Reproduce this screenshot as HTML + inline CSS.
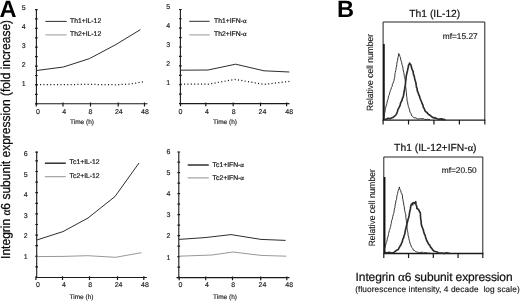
<!DOCTYPE html>
<html><head><meta charset="utf-8"><title>Figure</title>
<style>
html,body{margin:0;padding:0;background:#fff;}
body{width:520px;height:301px;overflow:hidden;}
svg{display:block;filter:blur(0.35px);text-rendering:geometricPrecision;font-family:"Liberation Sans",Arial,Helvetica,sans-serif;}
.ax{stroke:#1a1a1a;stroke-width:1.1;fill:none;}
.tk{stroke:#1a1a1a;stroke-width:1.2;fill:none;}
.tl{font-size:7px;fill:#1a1a1a;stroke:#1a1a1a;stroke-width:0.15;}
.lg{font-size:6.8px;fill:#1a1a1a;stroke:#1a1a1a;stroke-width:0.22;}
.sol{stroke:#222;stroke-width:0.95;fill:none;stroke-linejoin:round;}
.dot{stroke:#1a1a1a;stroke-width:1.25;fill:none;stroke-dasharray:1.1 2.3;}
.gry{stroke:#8c8c8c;stroke-width:0.9;fill:none;}
.lgry2{stroke:#999;stroke-width:1.1;fill:none;}
.lgry{stroke:#aaa;stroke-width:1.2;fill:none;}
.big{font-size:23.6px;font-weight:bold;fill:#000;}
.ylab{font-size:13px;fill:#0a0a0a;stroke:#0a0a0a;stroke-width:0.25;}
.ttl{font-size:10.3px;fill:#111;stroke:#111;stroke-width:0.2;}
.mf{font-size:8.3px;fill:#1a1a1a;stroke:#1a1a1a;stroke-width:0.15;}
.rel{font-size:9px;fill:#1a1a1a;stroke:#1a1a1a;stroke-width:0.12;}
.sym{font-family:"Liberation Serif","DejaVu Serif",serif;}
</style></head><body>
<svg width="520" height="301" viewBox="0 0 520 301">
<rect width="520" height="301" fill="#fff"/>
<g>
<path class="ax" d="M36.4 9.4 V103.8 M36.4 103.8 H147.5"/>
<path class="tk" d="M35 103.8H37.7M35 94.37H37.7M35 84.94H37.7M35 75.51H37.7M35 66.08H37.7M35 56.65H37.7M35 47.22H37.7M35 37.79H37.7M35 28.36H37.7M35 18.93H37.7M35 9.7H37.7M36.3 102.6V106.4M63 102.6V106.4M90.5 102.6V106.4M118.2 102.6V106.4M144.5 102.6V106.4"/>
<text class="tl" x="23.6" y="86.1" text-anchor="middle">1</text>
<text class="tl" x="23.6" y="67.03" text-anchor="middle">2</text>
<text class="tl" x="23.6" y="47.96" text-anchor="middle">3</text>
<text class="tl" x="23.6" y="28.89" text-anchor="middle">4</text>
<text class="tl" x="23.6" y="9.82" text-anchor="middle">5</text>
<text class="tl" x="38" y="114.2" text-anchor="middle">0</text>
<text class="tl" x="64.3" y="114.2" text-anchor="middle">4</text>
<text class="tl" x="90.5" y="114.2" text-anchor="middle">8</text>
<text class="tl" x="118.8" y="114.2" text-anchor="middle">24</text>
<text class="tl" x="145" y="114.2" text-anchor="middle">48</text>
<text class="tl" style="font-size:6.5px" x="70" y="123.7">Time (h)</text>
</g>
<g>
<path class="ax" d="M180.4 9.2 V103.6 M180.4 103.6 H289.5"/>
<path class="tk" d="M179 103.6H181.7M179 94.17H181.7M179 84.74H181.7M179 75.31H181.7M179 65.88H181.7M179 56.45H181.7M179 47.02H181.7M179 37.59H181.7M179 28.16H181.7M179 18.73H181.7M179 9.5H181.7M180.5 102.4V106.2M205.8 102.4V106.2M233.2 102.4V106.2M260.5 102.4V106.2M286.6 102.4V106.2"/>
<text class="tl" x="168.3" y="84.9" text-anchor="middle">1</text>
<text class="tl" x="168.3" y="65.9" text-anchor="middle">2</text>
<text class="tl" x="168.3" y="46.9" text-anchor="middle">3</text>
<text class="tl" x="168.3" y="27.9" text-anchor="middle">4</text>
<text class="tl" x="168.3" y="8.9" text-anchor="middle">5</text>
<text class="tl" x="180.5" y="114.2" text-anchor="middle">0</text>
<text class="tl" x="207" y="114.2" text-anchor="middle">4</text>
<text class="tl" x="233.7" y="114.2" text-anchor="middle">8</text>
<text class="tl" x="262.5" y="114.2" text-anchor="middle">24</text>
<text class="tl" x="289.2" y="114.2" text-anchor="middle">48</text>
<text class="tl" style="font-size:6.5px" x="213" y="124.1">Time (h)</text>
</g>
<g>
<path class="ax" d="M36.7 151.8 V277.5 M36.7 277.5 H146.8"/>
<path class="tk" d="M35.3 277.5H38M35.3 266.9H38M35.3 256.3H38M35.3 245.7H38M35.3 235.1H38M35.3 224.5H38M35.3 213.9H38M35.3 203.3H38M35.3 192.7H38M35.3 182.1H38M35.3 171.5H38M35.3 160.9H38M35.3 152.1H38M35.9 276.3V280.1M62.5 276.3V280.1M89.5 276.3V280.1M117.5 276.3V280.1M143.8 276.3V280.1"/>
<text class="tl" x="25.8" y="258.9" text-anchor="middle">1</text>
<text class="tl" x="25.8" y="238.3" text-anchor="middle">2</text>
<text class="tl" x="25.8" y="217.7" text-anchor="middle">3</text>
<text class="tl" x="25.8" y="197.1" text-anchor="middle">4</text>
<text class="tl" x="25.8" y="176.5" text-anchor="middle">5</text>
<text class="tl" x="25.8" y="155.9" text-anchor="middle">6</text>
<text class="tl" x="38" y="287.2" text-anchor="middle">0</text>
<text class="tl" x="64" y="287.2" text-anchor="middle">4</text>
<text class="tl" x="90.3" y="287.2" text-anchor="middle">8</text>
<text class="tl" x="118.6" y="287.2" text-anchor="middle">24</text>
<text class="tl" x="145" y="287.2" text-anchor="middle">48</text>
<text class="tl" style="font-size:6.5px" x="69.5" y="299">Time (h)</text>
</g>
<g>
<path class="ax" d="M178.8 151.7 V277.6 M176.5 277.6 H289.5"/>
<path class="tk" d="M177.4 277.6H180.1M177.4 267.11H180.1M177.4 256.62H180.1M177.4 246.13H180.1M177.4 235.64H180.1M177.4 225.15H180.1M177.4 214.66H180.1M177.4 204.17H180.1M177.4 193.68H180.1M177.4 183.19H180.1M177.4 172.7H180.1M177.4 162.21H180.1M177.4 152H180.1M179.2 276.4V280.2M205.7 276.4V280.2M232.5 276.4V280.2M260.7 276.4V280.2M286.8 276.4V280.2"/>
<text class="tl" x="168.5" y="259.5" text-anchor="middle">1</text>
<text class="tl" x="168.5" y="238.3" text-anchor="middle">2</text>
<text class="tl" x="168.5" y="217.1" text-anchor="middle">3</text>
<text class="tl" x="168.5" y="195.9" text-anchor="middle">4</text>
<text class="tl" x="168.5" y="174.7" text-anchor="middle">5</text>
<text class="tl" x="168.5" y="153.5" text-anchor="middle">6</text>
<text class="tl" x="180.5" y="287.2" text-anchor="middle">0</text>
<text class="tl" x="207" y="287.2" text-anchor="middle">4</text>
<text class="tl" x="233.3" y="287.2" text-anchor="middle">8</text>
<text class="tl" x="262.5" y="287.2" text-anchor="middle">24</text>
<text class="tl" x="289.2" y="287.2" text-anchor="middle">48</text>
<text class="tl" style="font-size:6.5px" x="213" y="299">Time (h)</text>
</g>
<polyline class="sol" points="36.6,70.5 63.4,67 89.5,58.6 116,44.5 140.4,29.6"/>
<polyline class="dot" points="36.6,84.6 63,84.6 90,84.4 116,84.8 130,84 144.5,81.7"/>
<polyline class="sol" points="45.4,21.4 66.7,21.4"/>
<polyline class="lgry" points="45.4,34.9 66.5,34.9"/>
<text class="lg" x="70" y="22.9">Th1+IL-12</text>
<text class="lg" x="70" y="36.1">Th2+IL-12</text>
<polyline class="sol" points="180.6,70.2 208,70 235.6,64.2 264,70.8 289.4,72"/>
<polyline class="dot" points="180.6,84 208,84.2 235,79.4 264,84.4 289.4,81.4"/>
<polyline class="sol" points="189.2,21.3 209.6,21.3"/>
<polyline class="lgry" points="189.2,34.9 209.8,34.9"/>
<text class="lg" x="214" y="23.1">Th1+IFN-<tspan class="sym">α</tspan></text>
<text class="lg" x="214" y="36.1">Th2+IFN-<tspan class="sym">α</tspan></text>
<polyline class="sol" points="36.8,240 63,231.6 88,218 115,196.5 139,163"/>
<polyline class="gry" points="36.8,256.6 63,256.4 87.7,255.7 115.5,257.3 141.5,252.7"/>
<path class="sol" style="stroke-width:1.4" d="M44.9 163.2H65.8"/>
<polyline class="lgry2" points="44.9,176.7 65.8,176.7"/>
<text class="lg" x="69.6" y="164.1">Tc1+IL-12</text>
<text class="lg" x="69.6" y="177.9">Tc2+IL-12</text>
<polyline class="sol" points="179,239.4 205,237.6 231,234.6 261,239.4 285.6,240.4"/>
<polyline class="gry" points="179,256.2 212,255 233,252 261,255.4 286.4,256.2"/>
<path class="sol" style="stroke-width:1.4" d="M187.7 165H208.8"/>
<polyline class="lgry2" points="187.7,177.9 208.8,177.9"/>
<text class="lg" x="212.6" y="166.9">Tc1+IFN-<tspan class="sym">α</tspan></text>
<text class="lg" x="212.6" y="179.5">Tc2+IFN-<tspan class="sym">α</tspan></text>
<text class="big" x="-0.4" y="17">A</text>
<text class="big" x="337" y="17.3">B</text>
<g transform="translate(10.3 258.9) rotate(-90) scale(0.9246 1)"><text class="ylab" id="ylab">Integrin <tspan class="sym" style="font-size:12px">α</tspan>6 subunit expression (fold increase)</text></g>
<g>
<path d="M383.1 120.1V22H484.8V120.1" fill="none" stroke="#222" stroke-width="1"/>
<path d="M382.6 120.1H485.3" fill="none" stroke="#1a1a1a" stroke-width="1.4"/>
<path class="tk" d="M383.1 120.1V124.5M408.53 120.1V124.5M433.95 120.1V124.5M459.38 120.1V124.5M484.8 120.1V124.5"/>
<path d="M383.9 43.9V120.1" stroke="#111" stroke-width="1.7" fill="none"/>
<polyline points="384,117 384.39,115.17 384.45,114.24 384.78,112.5 385.17,111.14 385.16,109.13 385.58,108.3 385.82,106.74 386.48,104.95 386.96,103.26 387.03,102.36 387.61,100.07 387.96,99.4 388.4,97.32 388.76,95.72 389.28,94.66 389.62,93.05 390.13,91.6 390.4,90.24 391.02,89.3 391.39,87.63 392.13,86.44 392.44,84.16 393.08,83.2 393.47,81.89 394.06,80.3 394.31,78.27 394.68,77.23 394.87,75.34 395.02,73.36 395.36,72.49 395.68,70.37 396.01,69.29 396.2,67.44 396.6,66.01 396.75,64.42 396.91,62.79 397.44,60.79 397.68,60.03 397.82,57.9 398.4,56.4 398.53,55.04 398.7,53.52 399.53,54.81 399.92,56.47 400.52,57.79 400.7,59.91 401.37,61.26 401.71,62.85 402.01,64.28 402.35,65.81 402.88,67.1 403.02,69.31 403.49,71 403.71,72.37 404.08,74.03 404.28,75.6 404.47,76.58 404.86,78.21 405.21,80.32 405.37,81.84 405.54,82.92 405.42,84.87 405.55,85.85 405.8,88.09 406.09,89.08 406.05,90.86 406.38,92.36 406.45,94.03 406.68,96.19 406.86,97.51 406.99,98.9 407.09,100.93 407.67,102.15 407.75,104.01 408.29,105.6 408.33,106.57 409.08,108.35 409.57,110.03 410.02,112.16 410.97,113.5 411.61,115.77 412.6,116.35 413.53,117.61 414.8,117.84 415.93,117.9 417.64,119.07 419.13,118.83 420.66,118.63 421.97,118.82 423.16,118.58 424.5,119.34 426.17,119.49 427.22,119.3 428.84,119.6 430,119.3" fill="none" stroke="#2a2a2a" stroke-width="0.95" stroke-linejoin="round"/>
<polyline points="384.5,119.2 386.45,119.39 387.87,118.22 389.89,118.74 391.32,118.02 393.04,117.41 394.01,116.53 395.26,115.53 396.23,114.46 396.78,113.32 397.41,111.44 397.98,109.37 398.76,108.13 399.66,106.38 400.12,105.03 400.51,103.24 401.15,101.83 402.07,100.24 402.31,98.64 403.12,97.09 403.46,95.51 403.72,94.11 404.09,92.28 404.06,91.46 404.59,89.45 404.81,87.36 405.27,85.59 405.41,84.08 405.61,82.41 405.62,81.44 405.99,79.59 405.99,78.22 406.23,76.12 406.47,75 406.81,73.61 407.12,72.01 407.58,70.46 407.87,68.5 408.27,67.15 408.48,65.31 409.32,64.26 409.53,63.12 411.09,65.32 411.38,67.07 411.82,68.58 412.41,70.15 413.03,71.23 413.26,72.61 413.52,74.85 414.15,75.71 414.49,77.62 414.74,78.93 415.27,80.77 415.78,82.38 416.04,83.75 416.2,85.17 416.51,87.39 417.08,88.18 417.17,89.76 417.56,91.74 417.99,92.16 418.5,94.12 418.87,94.95 419.45,96.2 420.1,98.27 420.7,99.84 421.28,101.23 421.69,102.27 422.29,104.03 422.91,105.04 423.35,107.37 424.06,108.32 424.56,109.48 425.2,111.16 426.12,111.96 427.02,112.52 427.72,113.59 428.66,114.43 430.45,115.55 432.19,117.01 433.46,117.9 434.51,117.67 435.84,118.15 437.32,118.79 438.5,119.14 440.01,119.12 441.65,118.87 443.51,119.44 445.5,119.7" fill="none" stroke="#2a2a2a" stroke-width="1.65" stroke-linejoin="round"/>
<text class="ttl" x="434.8" y="17.4" text-anchor="middle">Th1 (IL-12)</text>
<text class="mf" x="442.8" y="38.8">mf=15.27</text>
<text class="rel" transform="translate(373 72.4) rotate(-90) scale(0.945 1)" text-anchor="middle">Relative cell number</text>
</g>
<g>
<path d="M383.8 253.5V157H482.8V253.5" fill="none" stroke="#222" stroke-width="1"/>
<path d="M383.3 253.5H483.3" fill="none" stroke="#1a1a1a" stroke-width="1.4"/>
<path class="tk" d="M383.8 253.5V257.9M408.55 253.5V257.9M433.3 253.5V257.9M458.05 253.5V257.9M482.8 253.5V257.9"/>
<path d="M384.6 177V253.5" stroke="#111" stroke-width="1.7" fill="none"/>
<polyline points="384,250.6 384.48,248.82 384.96,247.4 385.22,246.09 385.96,244 386.2,242.68 386.71,241.62 387.14,239.75 387.45,237.85 388.13,236.12 388.45,234.62 388.56,233.35 389.11,232.03 389.27,230.22 389.79,229.33 390.28,227.8 390.63,226.39 390.93,224.71 391.32,223.35 391.36,222.34 391.74,220.27 392.16,219.62 392.45,217.91 392.82,216.41 393.23,214.87 393.65,213.58 393.95,212.16 394.28,210.82 394.28,209.15 394.87,207.82 395.02,206.36 395.23,204.53 395.69,202.97 395.84,200.81 396.51,199.65 396.77,197.3 396.87,195.92 397.46,194.3 397.57,193.3 397.94,191.55 398.41,190.13 399.01,188.76 399.38,186.9 399.58,188.1 400.1,189.72 400.77,190.73 401.18,192.77 401.93,193.92 402.47,195.83 402.56,198.11 402.91,199.46 403.23,201.38 403.54,203.05 403.8,205.15 404.18,206.44 404.33,208.01 404.71,210.43 404.89,211.84 405.46,213.52 405.84,214.97 405.82,217.17 406.14,218.81 406.27,220.51 406.59,222.19 406.52,223.32 407.02,225.66 407.01,227.03 407.14,229.08 407.41,230.48 407.79,232.08 408,233.62 408.15,235.65 408.68,237.06 408.85,238.3 409.21,240.22 409.63,241.14 409.86,243.08 410.51,244.11 411.11,245.93 411.58,247.32 412.65,248.3 413.48,250.25 414.36,250.35 415.39,251.33 416.72,252.13 417.62,252.12 419.4,252.58 420.94,252.48 422.26,252.07 423.58,252.86 424.97,252.66 426.63,252.76 428.21,253.25 430,252.9" fill="none" stroke="#2a2a2a" stroke-width="0.95" stroke-linejoin="round"/>
<polyline points="384.5,253 385.92,252.64 387.53,252.7 389.21,252.27 390.95,253.02 392.31,252.77 393.91,252.44 395.84,250.87 397.22,249.91 398.22,249.53 399.03,247.9 400.25,245.81 401.04,244.73 401.43,243.38 402.37,241.61 402.6,240.13 402.99,238.72 403.72,237.81 403.92,236.05 404.39,235.01 404.86,233.58 405.05,231.81 405.41,230.5 405.72,228.66 405.97,227.81 406.55,225.55 406.86,224.28 407.14,222.97 407.54,221.76 408.01,219.45 408.51,217.93 409.05,215.96 409.32,214.22 409.49,213.1 409.89,210.56 410.33,209.79 410.49,207.78 410.82,206.24 411.2,204.62 411.58,204 412.68,204.73 412.92,202.87 413.61,202.67 414.68,203.41 415.73,201.62 415.83,203.04 416.15,204.94 416.83,206.63 416.8,208.33 418.57,209.54 419.5,211.63 420.24,212.49 420.47,214.71 420.42,215.47 420.57,216.84 420.66,218.99 420.9,219.88 421.2,221.62 421.11,223.02 421.49,225.07 421.94,226.69 422.34,227.34 422.77,228.54 423.41,230.12 423.7,232.08 424.05,232.66 424.48,234.24 425.27,235.61 425.47,236.89 426.2,239.05 426.66,240.49 427.46,241.83 428.2,243.16 428.64,244.29 429.75,245.24 430.57,247.17 431.26,247.84 432.51,249.6 433.71,250.91 435.32,251.45 436.97,251.77 438.23,252.81 440.18,253.17 441.48,253.04 443.18,253.3 445.07,253.3 446.53,252.83 448.36,253.3 450,253.4" fill="none" stroke="#2a2a2a" stroke-width="1.65" stroke-linejoin="round"/>
<text class="ttl" x="435.3" y="151.1" text-anchor="middle">Th1 (IL-12+IFN-<tspan class="sym">α</tspan>)</text>
<text class="mf" x="441.8" y="173.3">mf=20.50</text>
<text class="rel" transform="translate(374.5 207.8) rotate(-90) scale(0.945 1)" text-anchor="middle">Relative cell number</text>
</g>
<text x="355.6" y="281.3" font-size="12" fill="#111" stroke="#111" stroke-width="0.2" textLength="157" lengthAdjust="spacing">Integrin <tspan class="sym" style="font-size:13px">α</tspan>6 subunit expression</text>
<text x="355.2" y="292.3" font-size="8.3" fill="#1a1a1a" stroke="#1a1a1a" stroke-width="0.15" style="white-space:pre" textLength="164.5" lengthAdjust="spacing">(fluorescence intensity, 4 decade  log scale)</text>
</svg>
</body></html>
